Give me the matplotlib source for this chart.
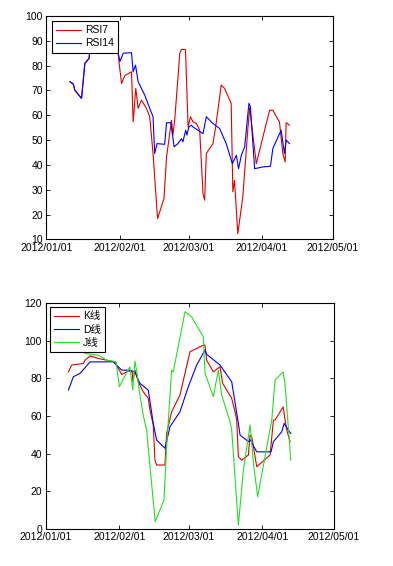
import numpy as np
import matplotlib
matplotlib.use('Agg')
import matplotlib.pyplot as plt
import matplotlib.dates as mdates

plt.rcParams['font.family'] = ['Liberation Sans', 'Noto Sans CJK SC', 'DejaVu Sans']
plt.rcParams['font.size'] = 7.5

# days after 2012-01-01
rsi14_day = [9.9, 11.3, 12.0, 14.8, 16.2, 18.0, 18.3, 20.4, 28.9, 30.3, 31.0, 32.4, 35.9, 36.6,
             37.6, 38.7, 41.5, 43.6, 45.0, 45.7, 46.7, 49.9, 50.7, 52.5, 53.9, 55.5, 57.0, 57.6,
             58.8, 59.3, 60.1, 61.2, 61.9, 66.1, 67.5, 70.3, 73.1, 75.9, 78.5, 80.2, 81.1, 82.3,
             83.7, 85.5, 86.1, 87.9, 91.4, 94.6, 95.6, 99.1, 100.5, 101.2, 102.6]
rsi14 = [73.5, 72.6, 70.0, 66.8, 80.9, 82.9, 86.3, 90.0, 89.0, 85.0, 81.6, 85.0, 85.2, 77.5,
         80.2, 73.5, 68.1, 62.8, 59.4, 44.6, 48.6, 48.3, 57.0, 57.0, 47.3, 48.6, 50.6, 49.3,
         54.0, 52.0, 55.3, 56.0, 55.3, 52.6, 59.4, 56.7, 54.7, 48.6, 40.5, 43.9, 38.5, 43.9,
         47.3, 64.8, 63.5, 38.5, 39.2, 39.5, 46.6, 54.0, 44.6, 50.0, 48.6]

rsi7_day = [9.9, 11.3, 12.0, 14.8, 16.2, 18.0, 18.3, 20.4, 28.9, 30.3, 30.6, 31.7, 33.1, 35.9,
            36.6, 37.7, 38.7, 40.1, 42.2, 43.6, 45.0, 46.9, 49.6, 50.7, 52.8, 53.4, 54.2, 56.3,
            57.0, 58.7, 59.8, 60.8, 61.9, 63.3, 64.7, 66.1, 66.8, 67.5, 70.3, 71.4, 73.8, 75.2,
            78.0, 78.7, 79.4, 80.8, 82.9, 85.0, 85.8, 88.6, 94.2, 95.6, 98.4, 99.8, 100.8, 101.2,
            102.6]
rsi7 = [73.5, 72.6, 70.0, 66.8, 80.9, 82.9, 86.3, 90.0, 89.0, 85.0, 81.6, 72.8, 76.0, 77.5,
        57.3, 70.8, 62.8, 66.1, 62.8, 59.4, 44.6, 18.4, 26.4, 43.2, 58.0, 52.0, 58.7, 85.0,
        86.5, 86.5, 55.3, 59.4, 57.3, 56.7, 54.0, 28.4, 25.8, 44.6, 48.6, 55.0, 72.2, 70.8,
        64.8, 29.2, 33.8, 12.3, 27.1, 54.0, 63.0, 40.5, 62.0, 62.0, 57.3, 44.6, 41.2, 57.0,
        56.0]

k_day = [9.6, 11.0, 15.9, 16.6, 18.7, 22.1, 25.7, 29.2, 30.1, 32.0, 34.7, 36.4, 36.6, 37.5,
         38.9, 41.0, 43.1, 43.8, 45.2, 45.9, 46.6, 50.1, 50.8, 52.9, 56.4, 58.5, 60.6, 66.2,
         66.9, 67.6, 70.4, 73.2, 74.3, 78.1, 79.5, 80.2, 80.9, 82.3, 85.1, 85.8, 86.5, 88.6,
         94.2, 95.6, 96.3, 99.7, 100.5, 101.2, 102.6]
k_line = [83.5, 87.1, 88.0, 89.7, 92.0, 90.6, 89.7, 88.8, 86.2, 82.1, 83.9, 83.5, 78.5, 84.4,
          78.2, 72.9, 69.4, 63.2, 55.2, 36.6, 34.0, 34.0, 50.8, 62.3, 71.2, 82.7, 94.2, 97.7,
          97.7, 89.7, 83.5, 86.2, 77.4, 69.4, 62.3, 57.9, 38.4, 36.6, 39.3, 49.9, 49.0, 33.1,
          39.3, 57.9, 57.9, 64.9, 57.9, 52.6, 46.4]

d_day = [9.6, 11.7, 14.5, 18.7, 28.4, 32.0, 35.4, 37.5, 39.6, 43.1, 45.2, 46.6, 50.1, 52.2,
         56.4, 59.9, 63.4, 66.9, 67.6, 73.2, 78.1, 80.9, 81.6, 85.1, 85.8, 88.6, 94.6, 95.6,
         99.1, 100.1, 101.8, 102.9]
d_line = [73.8, 80.9, 82.7, 88.8, 88.8, 84.4, 84.4, 83.5, 77.4, 73.8, 56.1, 47.3, 42.9, 54.3,
          62.3, 75.6, 87.1, 95.1, 92.8, 87.1, 78.2, 56.1, 49.9, 46.4, 47.5, 41.0, 41.0, 46.4,
          51.7, 56.1, 52.6, 50.8]

j_day = [9.6, 11.7, 14.5, 16.6, 22.1, 25.7, 29.6, 31.0, 32.4, 35.4, 36.6, 37.5, 38.3, 39.6,
         41.0, 42.4, 46.0, 49.7, 50.8, 52.9, 53.6, 58.5, 61.3, 66.2, 66.9, 70.4, 72.5, 73.9,
         77.4, 78.1, 80.9, 83.0, 85.8, 87.2, 89.0, 94.9, 96.3, 99.7, 100.5, 102.9]
j_line = [103.0, 99.0, 98.0, 93.3, 92.4, 89.7, 88.8, 75.6, 79.1, 86.2, 73.8, 89.2, 83.5, 71.2,
          60.5, 52.6, 3.9, 15.4, 43.7, 84.4, 83.5, 115.4, 112.7, 102.1, 82.7, 70.3, 84.4, 71.2,
          57.0, 52.6, 2.1, 31.3, 55.2, 34.9, 17.2, 57.9, 79.1, 83.5, 76.5, 36.6]

month_ticks = ['2012-01-01', '2012-02-01', '2012-03-01', '2012-04-01', '2012-05-01']

base = mdates.date2num(np.datetime64('2012-01-01'))
ticks = [mdates.date2num(np.datetime64(t)) for t in month_ticks]


def to_x(days):
    return base + np.array(days)


def style_axes(ax, yticks):
    ax.set_xlim(ticks[0], ticks[-1])
    ax.set_xticks(ticks)
    ax.xaxis.set_major_formatter(mdates.DateFormatter('%Y/%m/%d'))
    ax.set_yticks(yticks)
    ax.set_ylim(yticks[0], yticks[-1])
    ax.tick_params(direction='in', length=3, width=0.6, top=True, right=True,
                   labelsize=7.5, pad=2.5)
    for s in ax.spines.values():
        s.set_linewidth(0.8)


fig = plt.figure(figsize=(3.93, 5.66), dpi=100)

ax1 = fig.add_axes([0.1183, 0.5769, 0.729, 0.395])
ax1.plot(to_x(rsi7_day), rsi7, color='#e00000', lw=0.8, label='RSI7')
ax1.plot(to_x(rsi14_day), rsi14, color='#0000ff', lw=0.8, label='RSI14')
style_axes(ax1, list(range(10, 101, 10)))
leg = ax1.legend(loc='upper left', fontsize=7.5, fancybox=False, framealpha=1,
                 edgecolor='black', handlelength=2.4, labelspacing=0.3,
                 borderaxespad=0.5, borderpad=0.4, handletextpad=0.4)
leg.get_frame().set_linewidth(0.8)

ax2 = fig.add_axes([0.1158, 0.0654, 0.734, 0.399])
ax2.plot(to_x(k_day), k_line, color='#e00000', lw=0.8, label='K线')
ax2.plot(to_x(d_day), d_line, color='#0000ff', lw=0.8, label='D线')
ax2.plot(to_x(j_day), j_line, color='#22e022', lw=0.8, label='J线')
style_axes(ax2, list(range(0, 121, 20)))
leg = ax2.legend(loc='upper left', fontsize=7.5, fancybox=False, framealpha=1,
                 edgecolor='black', handlelength=2.4, labelspacing=0.3,
                 borderaxespad=0.4, borderpad=0.4, handletextpad=0.4)
leg.get_frame().set_linewidth(0.8)

fig.savefig('out.png', dpi=100, facecolor='white')
